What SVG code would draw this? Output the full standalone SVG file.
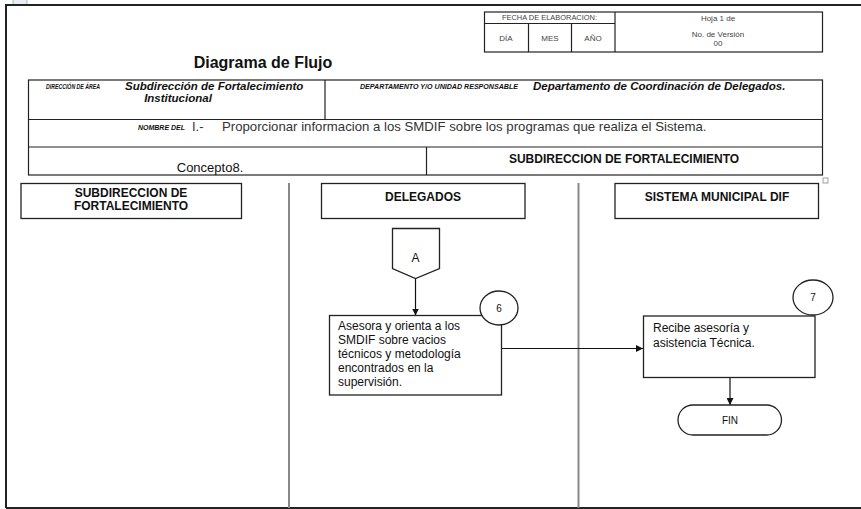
<svg xmlns="http://www.w3.org/2000/svg" width="861" height="509" viewBox="0 0 861 509">
<style>
text{font-family:"Liberation Sans",Arial,sans-serif;fill:#111}
.box{fill:#fff;stroke:#222;stroke-width:1.3}
.tbl{fill:none;stroke:#222;stroke-width:1.2}
.lane{stroke:#888;stroke-width:2}
.tiny{font-size:6.5px;font-weight:bold;font-style:italic}
.hdr{font-size:12px;font-weight:bold;text-anchor:middle}
.small{font-size:8px;fill:#444;text-anchor:middle}
.body{font-size:12px}
.bi{font-size:11.5px;font-weight:bold;font-style:italic}
.conn{stroke:#111;stroke-width:1.2;fill:none;marker-end:url(#arr)}
</style>
<defs>
<marker id="arr" viewBox="0 0 10 10" refX="10" refY="5" markerWidth="7" markerHeight="7" orient="auto" markerUnits="userSpaceOnUse">
<path d="M0,0L10,5L0,10z" fill="#111"/>
</marker>
</defs>
<rect width="861" height="509" fill="#fff"/>
<rect x="13" y="-1" width="14" height="6" fill="#e8eef6" stroke="#9ab" stroke-width="0.8"/>
<path d="M6,508V5H861" fill="none" stroke="#222" stroke-width="2"/>
<line x1="6" y1="508" x2="861" y2="508" stroke="#222" stroke-width="2"/>
<g id="header-table">
<rect class="tbl" x="484.5" y="12" width="338" height="40"/>
<line class="tbl" x1="484.5" y1="23.5" x2="615" y2="23.5"/>
<line class="tbl" x1="615" y1="12" x2="615" y2="52"/>
<line class="tbl" x1="528.5" y1="23.5" x2="528.5" y2="52"/>
<line class="tbl" x1="571.5" y1="23.5" x2="571.5" y2="52"/>
<text class="small" x="502" y="20" style="font-size:6.5px;text-anchor:start" textLength="95" lengthAdjust="spacingAndGlyphs">FECHA DE ELABORACION:</text>
<text class="small" x="718" y="21">Hoja 1 de</text>
<text class="small" x="506" y="41">DÍA</text>
<text class="small" x="550" y="41">MES</text>
<text class="small" x="593" y="41">AÑO</text>
<text class="small" x="718" y="37">No. de Versión</text>
<text class="small" x="718" y="46">00</text>
</g>
<text x="263" y="68" style="font-size:16px;font-weight:bold;text-anchor:middle">Diagrama de Flujo</text>
<g id="info-table">
<rect class="tbl" x="28.5" y="80" width="794" height="95"/>
<line class="tbl" x1="28.5" y1="119.5" x2="822.5" y2="119.5"/>
<line class="tbl" x1="28.5" y1="147" x2="822.5" y2="147"/>
<line class="tbl" x1="325" y1="80" x2="325" y2="119.5"/>
<line class="tbl" x1="426.5" y1="147" x2="426.5" y2="175"/>
<text class="tiny" x="46" y="89" textLength="54" lengthAdjust="spacingAndGlyphs">DIRECCIÓN DE ÁREA</text>
<text class="bi" x="125" y="90">Subdirección de Fortalecimiento</text>
<text class="bi" x="178" y="102" style="text-anchor:middle">Institucional</text>
<text class="tiny" x="360" y="89" textLength="158" lengthAdjust="spacingAndGlyphs">DEPARTAMENTO  Y/O UNIDAD RESPONSABLE</text>
<text class="bi" x="533" y="90">Departamento de Coordinación de Delegados.</text>
<text class="tiny" x="138" y="130" textLength="47" lengthAdjust="spacingAndGlyphs">NOMBRE DEL</text>
<text x="192" y="131" style="font-size:13px;fill:#333">I.-</text>
<text x="222" y="131" style="font-size:13.2px;fill:#333">Proporcionar informacion a los SMDIF sobre los programas que realiza el Sistema.</text>
<text x="210" y="172" style="font-size:13px;text-anchor:middle">Concepto8.</text>
<text class="hdr" x="624" y="163">SUBDIRECCION DE FORTALECIMIENTO</text>
</g>
<rect x="823" y="178" width="5" height="5" fill="#fff" stroke="#888" stroke-width="0.8"/>
<g id="lanes">
<line class="lane" x1="289" y1="183" x2="289" y2="508"/>
<line class="lane" x1="578.5" y1="183" x2="578.5" y2="508"/>
</g>
<g id="lane-subdireccion">
<rect class="box" x="21" y="183.5" width="220.5" height="35"/>
<text class="hdr" x="131" y="197">SUBDIRECCION DE</text>
<text class="hdr" x="131" y="210">FORTALECIMIENTO</text>
</g>
<g id="lane-delegados">
<rect class="box" x="321.5" y="183.5" width="203.5" height="35"/>
<text class="hdr" x="423" y="201">DELEGADOS</text>
</g>
<g id="lane-sistema">
<rect class="box" x="615" y="183.5" width="203.5" height="35"/>
<text class="hdr" x="717" y="201">SISTEMA MUNICIPAL DIF</text>
</g>
<g id="connectors">
<line class="conn" x1="415.5" y1="278.5" x2="415.5" y2="315.5"/>
<line class="conn" x1="501.5" y1="348.5" x2="643" y2="348.5"/>
<line class="conn" x1="730" y1="377" x2="730" y2="405"/>
</g>
<g id="node-A">
<path class="box" d="M392.5,228.5H439.5V268.5L415.5,278.5L392.5,268.5Z"/>
<text x="415.5" y="262" style="font-size:12px;text-anchor:middle">A</text>
</g>
<g id="node-step6">
<rect class="box" x="329.5" y="315.5" width="172" height="79.5"/>
<text class="body" x="338" y="330">Asesora y orienta a los</text>
<text class="body" x="338" y="344">SMDIF sobre vacios</text>
<text class="body" x="338" y="358">técnicos y metodología</text>
<text class="body" x="338" y="372">encontrados en la</text>
<text class="body" x="338" y="386">supervisión.</text>
</g>
<g id="circle-6">
<ellipse class="box" cx="499" cy="308" rx="19" ry="17"/>
<text x="499" y="312" style="font-size:10px;text-anchor:middle">6</text>
</g>
<g id="node-step7">
<rect class="box" x="643.5" y="316" width="171.5" height="61.5"/>
<text class="body" x="653" y="332">Recibe asesoría y</text>
<text class="body" x="653" y="347">asistencia Técnica.</text>
</g>
<g id="circle-7">
<ellipse class="box" cx="813" cy="297.5" rx="20" ry="17.5"/>
<text x="813" y="301" style="font-size:10px;text-anchor:middle">7</text>
</g>
<g id="node-fin">
<rect class="box" x="678" y="405" width="103.5" height="30" rx="15" ry="15"/>
<text x="730" y="424" style="font-size:10px;text-anchor:middle">FIN</text>
</g>
</svg>
